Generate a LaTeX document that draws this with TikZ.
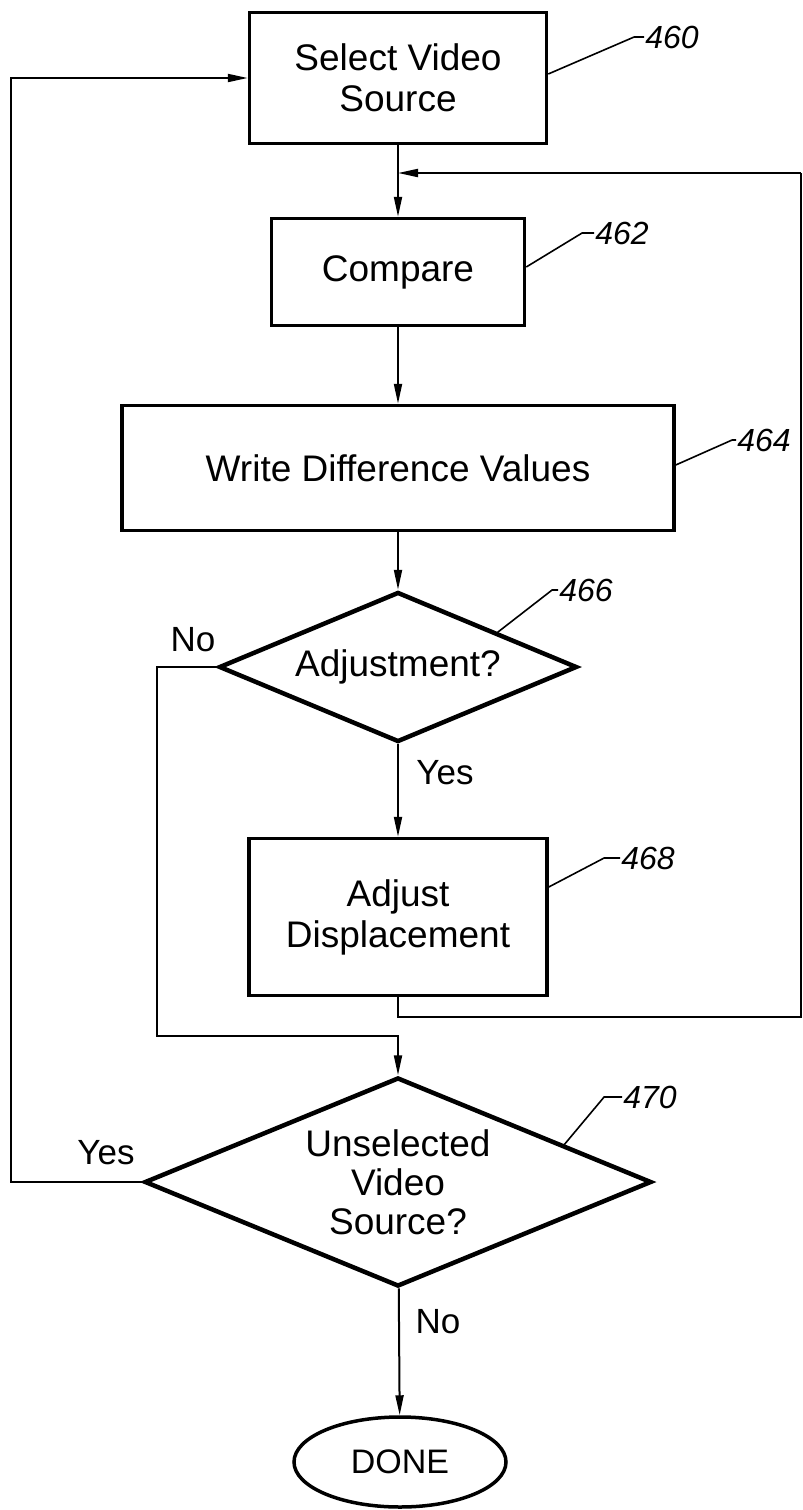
\documentclass[tikz,border=0pt]{standalone}
\usepackage{fontspec}
\setmainfont{Liberation Sans}
\usetikzlibrary{arrows.meta,calc,shapes.geometric,positioning}
\tikzset{
  stepbox/.style={draw, rectangle, line width=3.5pt, inner sep=0pt, align=center, font=\fontsize{37}{41}\selectfont},
  decision/.style={draw, diamond, line width=4.5pt, inner sep=0pt, align=center, font=\fontsize{37}{39}\selectfont},
  flow/.style={line width=2pt, -{Triangle[length=20pt,width=8pt]}},
  link/.style={line width=2pt},
  leader/.style={line width=1.6pt},
  refnum/.style={inner sep=1pt, font=\fontsize{32}{32}\selectfont\itshape},
  answer/.style={inner sep=0pt, font=\fontsize{35}{35}\selectfont}
}

\begin{document}
\begin{tikzpicture}[x=1pt,y=-1pt]

            % Page size.
            \useasboundingbox (0,0) rectangle (803,1510);

            % Draw the steps.
            \node[stepbox, minimum width=297pt, minimum height=131pt] (select) at (398,78) {Select Video\\Source};
            \node[stepbox, minimum width=253pt, minimum height=107pt] (compare) at (398,272) {Compare};
            \node[stepbox, minimum width=552pt, minimum height=125pt] (write) at (398,468) {Write Difference Values};
            \node[decision, minimum width=358pt, minimum height=150pt, shape aspect=2.39] (adjq) at (398,667) {Adjustment?};
            \node[stepbox, minimum width=298pt, minimum height=157pt] (adjust) at (398,917) {Adjust\\Displacement};
            \node[decision, minimum width=507pt, minimum height=209pt, shape aspect=2.43] (moreq) at (398,1182) {Unselected\\Video\\Source?};
            \node[draw, ellipse, line width=3.5pt, minimum width=212pt, minimum height=90pt, inner sep=0pt, font=\fontsize{34}{34}\selectfont] (done) at (400,1462) {DONE};

            % Turning points of the loops.
            \coordinate (join) at (398,173);
            \coordinate (backR) at (801,1017);
            \coordinate (backT) at (801,173);
            \coordinate (noturn) at (157,1036);
            \coordinate (yesturn) at (11,1182);

            % Draw the flow.
            \draw[link] (select) -- (join);
            \draw[flow] (join) -- (compare);
            \draw[flow] (compare) -- (write);
            \draw[flow] (write) -- (adjq);
            \draw[flow] (adjq) -- (adjust);
            \draw[link] (adjust.south) |- (backR) -- (backT);
            \draw[flow] (backT) -- (join);
            \draw[flow] (adjq.west) -| (noturn) -| (moreq.north);
            \draw[flow] (moreq.west) -- (yesturn) |- (select.west);
            \draw[flow] (moreq) -- (done);

            % Answers.
            \node[answer] (no1) at (193,640) {No};
            \node[answer] (yes1) at (445,773) {Yes};
            \node[answer] (yes2) at (106,1153) {Yes};
            \node[answer] (no2) at (438,1322) {No};

            % Reference numbers.
            \node[refnum] (r460) at (672,37) {460};
            \node[refnum] (r462) at (622,233) {462};
            \node[refnum] (r464) at (764,440) {464};
            \node[refnum] (r466) at (586,590) {466};
            \node[refnum] (r468) at (648,858) {468};
            \node[refnum] (r470) at (650,1097) {470};

            \draw[leader] ([yshift=4pt]select.east) -- ([xshift=-10pt]r460.west) -- (r460.west);
            \draw[leader] ([yshift=5pt]compare.east) -- ([xshift=-12pt]r462.west) -- (r462.west);
            \draw[leader] ([yshift=3pt]write.east) -- ([xshift=-4pt]r464.west) -- (r464.west);
            \draw[leader] ($(adjq.north)!0.55!(adjq.east)$) -- ([xshift=-6pt]r466.west) -- (r466.west);
            \draw[leader] ([yshift=30pt]adjust.east) -- ([xshift=-16pt]r468.west) -- (r468.west);
            \draw[leader] ($(moreq.north)!0.65!(moreq.east)$) -- ([xshift=-18pt]r470.west) -- (r470.west);

\end{tikzpicture}
\end{document}
